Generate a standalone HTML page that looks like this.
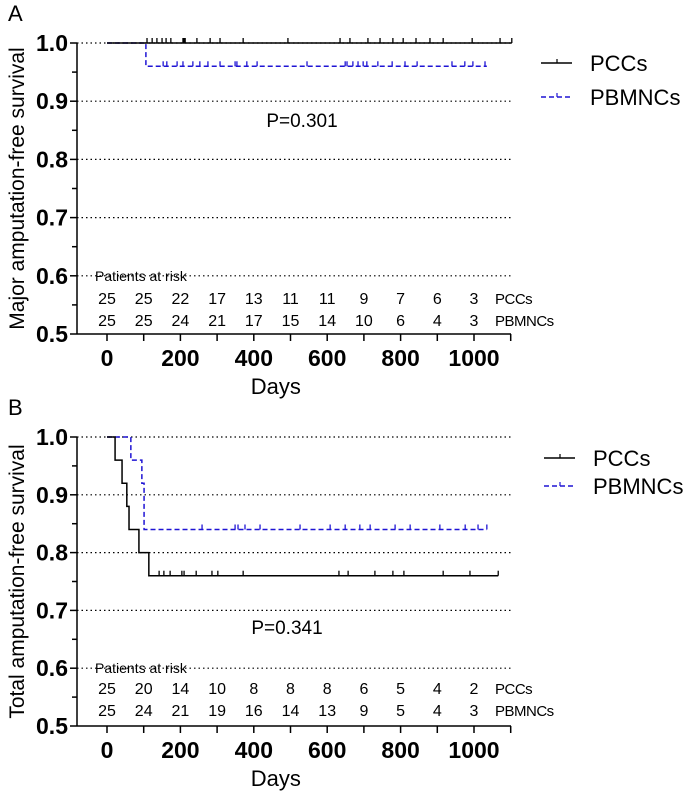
<!DOCTYPE html>
<html><head><meta charset="utf-8">
<style>
html,body{margin:0;padding:0;background:#fff;}
svg{display:block;font-family:"Liberation Sans",Arial,sans-serif;}
</style></head>
<body>
<svg id="chart" width="689" height="795" viewBox="0 0 689 795" xmlns="http://www.w3.org/2000/svg"></svg>
<script>
// ---- data ----
const xTicks = [0,200,400,600,800,1000];
const yTicks = [0.5,0.6,0.7,0.8,0.9,1.0];
const riskDays = [0,100,200,300,400,500,600,700,800,900,1000];
// Panel A
const aPccSteps = [[0,1.0]];
const aPccEnd = 1103;
const aPccCensor = [109,123,136,150,161,174,207,210,213,245,281,308,371,493,635,662,711,744,779,807,842,880,916,995,1071,1103];
const aPbmSteps = [[0,1.0],[106,0.96]];
const aPbmEnd = 1035;
const aPbmCensor = [153,163,191,207,234,253,275,308,349,354,381,409,545,649,654,670,684,698,708,738,777,812,845,940,975,997,1030];
const aRiskPcc = [25,25,22,17,13,11,11,9,7,6,3];
const aRiskPbm = [25,25,24,21,17,15,14,10,6,4,3];
// Panel B
const bPccSteps = [[0,1.0],[22,0.96],[41,0.92],[54,0.88],[60,0.84],[87,0.80],[114,0.76]];
const bPccEnd = 1066;
const bPccCensor = [142,155,172,204,210,243,286,302,371,632,657,730,779,809,916,989,1066];
const bPbmSteps = [[0,1.0],[65,0.96],[95,0.92],[101,0.84]];
const bPbmEnd = 1035;
const bPbmCensor = [259,349,357,376,417,526,608,649,689,717,785,826,907,976,1011,1035];
const bRiskPcc = [25,20,14,10,8,8,8,6,5,4,2];
const bRiskPbm = [25,24,21,19,16,14,13,9,5,4,3];

const NS="http://www.w3.org/2000/svg";
const svg=document.getElementById('chart');
function mk(tag,attrs,parent){const e=document.createElementNS(NS,tag);for(const k in attrs)e.setAttribute(k,attrs[k]);(parent||svg).appendChild(e);return e;}
const BLUE='#1f14d4';

function panel(o){
  const g=mk('g',{});
  
  
  const X=d=>107+d*0.367;
  const Y=v=>o.y1+(1-v)*(o.y05-o.y1)/0.5;
  const axR=511;
  yTicks.forEach(v=>{if(v>0.5){const l=mk('line',{x1:77,x2:axR,y1:Y(v),y2:Y(v),stroke:'#000','stroke-width':1.2,'stroke-dasharray':'1.5,3'},g);
    
    }});
  const ya=mk('line',{x1:77,x2:77,y1:o.y1,y2:o.y05,stroke:'#000','stroke-width':1.5},g);
  
  
  const xa=mk('line',{x1:77,x2:axR,y1:o.y05,y2:o.y05,stroke:'#000','stroke-width':1.5},g);
  
  
  yTicks.forEach(v=>{
    mk('line',{x1:70,x2:77,y1:Y(v),y2:Y(v),stroke:'#000','stroke-width':1.5},g);
    if(v<1){mk('line',{x1:72,x2:77,y1:Y(v+0.05),y2:Y(v+0.05),stroke:'#000','stroke-width':1.5},g);}
    const t=mk('text',{x:68,y:Y(v)+8,'text-anchor':'end','font-size':23,'font-weight':'bold'},g);
    t.textContent=v.toFixed(1);
    
    
  });
  for(let d=0;d<=1100;d+=100){mk('line',{x1:X(d),x2:X(d),y1:o.y05,y2:o.y05+7,stroke:'#000','stroke-width':1.5},g);}
  xTicks.forEach(d=>{const t=mk('text',{x:X(d),y:o.y05+32,'text-anchor':'middle','font-size':23,'font-weight':'bold'},g);
    t.textContent=d;
    
    });
  const xt=mk('text',{x:X(400)+22,y:o.y05+60,'text-anchor':'middle','font-size':22},g);
  xt.textContent='Days';
  
  
  const cy=(o.y1+o.y05)/2;
  const yt=mk('text',{x:0,y:0,'text-anchor':'middle','font-size':21,transform:`translate(24,${cy}) rotate(-90)`},g);
  yt.textContent=o.ytitle;
  
  
  const pl=mk('text',{x:8,y:o.y1-22,'font-size':22},g);
  pl.textContent=o.letter;
  
  
  function curve(steps,end,cens,color,dash,name){
    let d=`M${X(steps[0][0])},${Y(steps[0][1])}`;
    for(let i=1;i<steps.length;i++){d+=` H${X(steps[i][0])} V${Y(steps[i][1])}`;}
    d+=` H${X(end)}`;
    const p=mk('path',{d:d,fill:'none',stroke:color,'stroke-width':1.5,'stroke-dasharray':dash},g);
    
    
    cens.forEach(c=>{let v=steps[0][1];steps.forEach(s=>{if(s[0]<=c)v=s[1];});
      const l=mk('line',{x1:X(c),x2:X(c),y1:Y(v),y2:Y(v)-5,stroke:color,'stroke-width':1.3},g);
      
      });
  }
  curve(o.pbm,o.pbmEnd,o.pbmC,BLUE,'5,3','pbmncs-curve');
  curve(o.pcc,o.pccEnd,o.pccC,'#000','none','pccs-curve');
  const pv=mk('text',{x:o.pX,y:o.pY,'text-anchor':'middle','font-size':19},g);
  pv.textContent=o.p;
  
  
  const rt=mk('text',{x:95,y:Y(0.6)+5,'font-size':14},g);
  rt.textContent='Patients at risk';
  
  
  [[o.rPcc,o.r1,'PCCs'],[o.rPbm,o.r2,'PBMNCs']].forEach(r=>{
    riskDays.forEach((d,i)=>{const t=mk('text',{x:X(d),y:r[1]+6,'text-anchor':'middle','font-size':16},g);
      t.textContent=r[0][i];
      
      });
    const lb=mk('text',{x:495,y:r[1]+6,'font-size':15,'letter-spacing':'-0.5'},g);
    lb.textContent=r[2];
    
    
  });
  const lg=mk('g',{},g);
  
  
  mk('line',{x1:o.lx,x2:o.lx+31,y1:o.ly1,y2:o.ly1,stroke:'#000','stroke-width':1.5},lg);
  mk('line',{x1:o.lx+16,x2:o.lx+16,y1:o.ly1,y2:o.ly1-4,stroke:'#000','stroke-width':1.2},lg);
  mk('line',{x1:o.lx,x2:o.lx+31,y1:o.ly2,y2:o.ly2,stroke:BLUE,'stroke-width':1.5,'stroke-dasharray':'5,3'},lg);
  mk('line',{x1:o.lx+16,x2:o.lx+16,y1:o.ly2,y2:o.ly2-4,stroke:BLUE,'stroke-width':1.2},lg);
  const l1=mk('text',{x:o.lx+49,y:o.ly1+8,'font-size':22},lg);
  l1.textContent='PCCs';
  
  
  const l2=mk('text',{x:o.lx+49,y:o.ly2+8,'font-size':22},lg);
  l2.textContent='PBMNCs';
  
  
}

panel({name:'panel-a',letter:'A',y1:43,y05:334,ytitle:'Major amputation-free survival',
  pcc:aPccSteps,pccEnd:aPccEnd,pccC:aPccCensor,pbm:aPbmSteps,pbmEnd:aPbmEnd,pbmC:aPbmCensor,
  rPcc:aRiskPcc,rPbm:aRiskPbm,r1:298,r2:320,p:'P=0.301',pX:302,pY:127,lx:541,ly1:63,ly2:97});
panel({name:'panel-b',letter:'B',y1:437,y05:726,ytitle:'Total amputation-free survival',
  pcc:bPccSteps,pccEnd:bPccEnd,pccC:bPccCensor,pbm:bPbmSteps,pbmEnd:bPbmEnd,pbmC:bPbmCensor,
  rPcc:bRiskPcc,rPbm:bRiskPbm,r1:688,r2:710,p:'P=0.341',pX:287,pY:634,lx:544,ly1:458,ly2:486});
</script>
</body></html>
